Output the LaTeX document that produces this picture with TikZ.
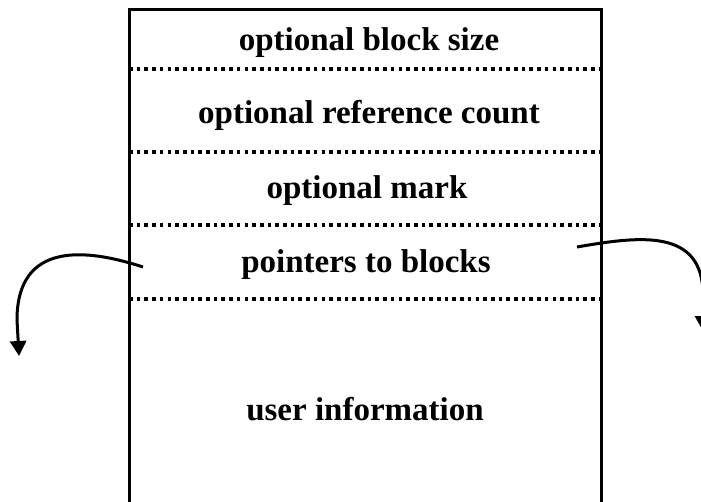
\documentclass[tikz,border=0pt]{standalone}
\usepackage{fontspec}
\setmainfont{Liberation Serif}
\usetikzlibrary{arrows.meta}
\tikzset{
  field/.style={anchor=base, inner sep=0pt, font=\fontsize{33}{40}\selectfont\bfseries},
  separator/.style={line width=3.2pt, dash pattern=on 3.6pt off 4.1pt},
  frame/.style={line width=3pt},
  link/.style={line width=3pt, -{Triangle[length=15pt,width=16pt]}}
}
\begin{document}
\begin{tikzpicture}[x=1pt,y=-1pt]
  \useasboundingbox (0,0) rectangle (701,501);
  % record outline, open at the bottom
  \draw[frame] (129,512) -- (129,9) -- (601,9) -- (601,512);
  % field separators
  \draw[separator] (129,69) -- (601,69);
  \draw[separator] (129,152) -- (601,152);
  \draw[separator] (129,225) -- (601,225);
  \draw[separator] (129,299) -- (601,299);
  % field labels
  \node[field] (size) at (369,50) {optional block size};
  \node[field] (count) at (369,123) {optional reference count};
  \node[field] (mark) at (367,198) {optional mark};
  \node[field] (ptrs) at (366,272) {pointers to blocks};
  \node[field] (user) at (365,420) {user information};
  % outgoing pointers
  \coordinate (lstart) at (143,267);
  \coordinate (ltip) at (19,356);
  \coordinate (rstart) at (577,247);
  \coordinate (rtip) at (703,331);
  \draw[link] (lstart) .. controls (88,249) and (17,240) .. (17,320) -- (ltip);
  \draw[link] (rstart) .. controls (640,236) and (703,228) .. (703,295) -- (rtip);
\end{tikzpicture}
\end{document}
